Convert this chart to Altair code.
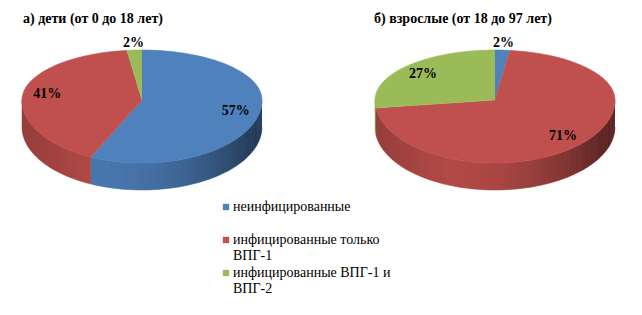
import altair as alt
import pandas as pd

# ---- data ----
CATEGORIES = ["неинфицированные", "инфицированные только ВПГ-1", "инфицированные ВПГ-1 и ВПГ-2"]
CHILDREN = [57, 41, 2]
ADULTS = [2, 71, 27]
TITLES = ["а) дети (от 0 до 18 лет)", "б) взрослые  (от 18 до 97 лет)"]
COLORS = ["#4F81BD", "#C0504D", "#9BBB59"]

# ---- geometry / style (pixels) ----
A = 120      # horizontal semi-axis of the pie top
BF = 50      # vertical semi-axis, far half
BN = 63      # vertical semi-axis, near half
D = 27       # pie thickness
N = 72       # arc resolution
M = 90       # shading strips on the side
PANEL_W = 284
PANEL_H = 172
PLOT_TOP = 28
CENTER_Y = 98
XDOM = [-PANEL_W / 2, PANEL_W / 2]
YDOM = [CENTER_Y - (PLOT_TOP + PANEL_H), CENTER_Y - PLOT_TOP]
FONT = "Liberation Serif, Times New Roman, serif"

X = alt.X("px:Q", scale=alt.Scale(domain=XDOM, nice=False, zero=False), axis=None)
Y = alt.Y("py:Q", scale=alt.Scale(domain=YDOM, nice=False, zero=False), axis=None)

# wrap the long legend entries as in the reference (single-line entry gets a blank second line)
LABEL_EXPR = (
    "datum.label == 'неинфицированные' ? [datum.label, ''] : "
    "[slice(datum.label, 0, lastindexof(datum.label, ' ')), "
    "slice(datum.label, lastindexof(datum.label, ' ') + 1)]"
)

FILL = alt.Fill(
    "category:N",
    scale=alt.Scale(domain=CATEGORIES, range=COLORS),
    legend=alt.Legend(
        title=None, orient="none", legendX=219, legendY=170, direction="vertical",
        symbolType="square", symbolSize=40, symbolStrokeWidth=0,
        labelFont=FONT, labelFontSize=14, labelColor="#000000", labelLimit=400,
        labelExpr=LABEL_EXPR, rowPadding=3, labelOffset=0,
    ),
)
STROKE = alt.Stroke("category:N", scale=alt.Scale(domain=CATEGORIES, range=COLORS), legend=None)

RY = f"(cos(datum.t) > 0 ? {BF} : {BN})"


def pie_panel(values, title, dx):
    df = pd.DataFrame({"category": CATEGORIES, "value": values, "k": list(range(len(values)))})
    base = alt.Chart(df).transform_window(
        cum="sum(value)", sort=[alt.SortField("k")], frame=[None, 0]
    ).transform_joinaggregate(
        total="sum(value)"
    ).transform_calculate(
        t0="2 * PI * (datum.cum - datum.value) / datum.total",
        t1="2 * PI * datum.cum / datum.total",
    )

    # side wall of each slice (front half only)
    side = base.transform_calculate(
        s0="max(datum.t0, PI / 2)", s1="min(datum.t1, 3 * PI / 2)"
    ).transform_filter("datum.s1 > datum.s0").transform_calculate(
        i=f"sequence(0, {2 * N + 2})"
    ).transform_flatten(["i"]).transform_calculate(
        kk=f"datum.i <= {N} ? datum.i : {2 * N + 1} - datum.i"
    ).transform_calculate(
        t=f"datum.s0 + (datum.s1 - datum.s0) * datum.kk / {N}"
    ).transform_calculate(
        px=f"{A} * sin(datum.t)",
        py=f"{BN} * cos(datum.t) - (datum.i > {N} ? {D} : 0)",
    ).mark_line(strokeWidth=0.6, interpolate="linear").encode(
        x=X, y=Y, fill=FILL, stroke=STROKE, order=alt.Order("i:Q")
    )

    # shading of the side wall
    shade = alt.Chart(alt.sequence(0, M, as_="j")).transform_calculate(
        i="sequence(0, 4)"
    ).transform_flatten(["i"]).transform_calculate(
        t=f"PI / 2 + PI * (datum.j + ((datum.i == 1 || datum.i == 2) ? 1 : 0)) / {M}",
        xm=f"sin(PI / 2 + PI * (datum.j + 0.5) / {M})",
    ).transform_calculate(
        px=f"{A} * sin(datum.t)",
        py=f"{BN} * cos(datum.t) - (datum.i >= 2 ? {D} : 0)",
        sh="datum.xm > -0.4 ? 0.08 + 0.52 * pow((datum.xm + 0.4) / 1.4, 2) : 0.08 + 0.14 * (-0.4 - datum.xm) / 0.6",
    ).mark_line(fill="#000000", strokeWidth=0).encode(
        x=X, y=Y, detail="j:N", order=alt.Order("i:Q"), opacity=alt.Opacity("sh:Q", scale=None)
    )

    # top surface
    top = base.transform_calculate(
        i=f"sequence(0, {N + 2})"
    ).transform_flatten(["i"]).transform_calculate(
        t=f"datum.t0 + (datum.t1 - datum.t0) * (datum.i - 1) / {N}"
    ).transform_calculate(
        px=f"datum.i == 0 ? 0 : {A} * sin(datum.t)",
        py=f"datum.i == 0 ? 0 : {RY} * cos(datum.t)",
    ).mark_line(strokeWidth=0.6, interpolate="linear").encode(
        x=X, y=Y, fill=FILL, stroke=STROKE, order=alt.Order("i:Q")
    )

    # percentage labels
    labels = base.transform_calculate(
        t="(datum.t0 + datum.t1) / 2",
        r="datum.value < 5 ? 1.14 : 0.8",
        txt="datum.value + '%'",
    ).transform_calculate(
        px=f"{A} * datum.r * sin(datum.t)",
        py=f"{RY} * datum.r * cos(datum.t)",
    ).mark_text(
        font=FONT, fontSize=14, fontWeight="bold", color="#000000", align="center", baseline="middle"
    ).encode(x=X, y=Y, text="txt:N")

    return alt.layer(side, shade, top, labels).properties(
        width=PANEL_W, height=PANEL_H,
        title=alt.TitleParams(
            text=title, anchor="start", dx=dx, dy=2, font=FONT, fontSize=14, fontWeight="bold",
            color="#000000", offset=6,
        ),
    )


chart = alt.hconcat(
    pie_panel(CHILDREN, TITLES[0], 23),
    pie_panel(ADULTS, TITLES[1], 21),
    spacing=69,
).resolve_scale(fill="shared", stroke="shared").properties(
    padding={"top": 12, "left": 0, "right": 0, "bottom": 0}, background="#ffffff"
).configure_view(stroke=None)

chart.save("out.html", embed_options={"renderer": "svg", "actions": False})
